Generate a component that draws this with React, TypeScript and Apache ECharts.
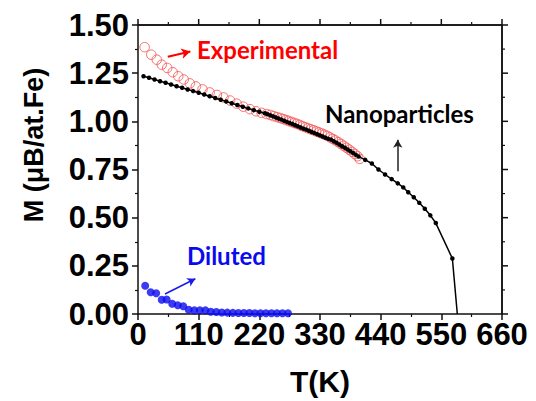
import React, { useEffect, useRef } from "react";
import * as echarts from "echarts";

// Nanoparticles (black line with small dots)
const nanoT = [10, 20, 30, 40, 50, 60, 70, 80, 90, 100, 110, 120, 130, 140, 150, 160, 170, 180, 190, 200, 210, 220,
  230, 235, 240, 245, 250, 255, 260, 265, 270, 275, 280, 285, 290, 295, 300, 305, 310, 315, 320, 325, 330, 335, 340, 345,
  350, 355, 360, 365, 370, 375, 380, 385, 390, 395, 400,
  412, 424, 436, 448, 460, 471, 481, 490, 500, 510, 520, 530, 540, 570, 579];
const nanoM = [1.234, 1.226, 1.217, 1.208, 1.2, 1.191, 1.182, 1.174, 1.165, 1.157, 1.148, 1.139, 1.13, 1.121, 1.112, 1.103, 1.094, 1.085, 1.076, 1.067, 1.058, 1.05,
  1.042, 1.037, 1.031, 1.026, 1.02, 1.014, 1.009, 1.003, 0.997, 0.991, 0.986, 0.98, 0.974, 0.968, 0.962, 0.957, 0.951, 0.945, 0.939, 0.933, 0.927, 0.921, 0.915, 0.909,
  0.905, 0.897, 0.889, 0.88, 0.871, 0.863, 0.854, 0.845, 0.836, 0.826, 0.817,
  0.8, 0.781, 0.75, 0.724, 0.7, 0.678, 0.657, 0.632, 0.606, 0.577, 0.546, 0.512, 0.472, 0.288, 0];

// Experimental (red open circles)
const expT = [12, 24, 34, 43, 53, 63, 73, 83, 94, 105, 117, 130, 143, 155, 167, 179, 191, 203, 214, 224, 233,
  240, 246, 252, 258, 263, 268, 273, 278, 283, 288, 293, 298, 303, 308, 313, 318, 323, 328, 333, 338, 343, 348,
  353, 358, 363, 368, 373, 378, 383, 388, 393, 398, 402];
const expM = [1.385, 1.346, 1.32, 1.294, 1.277, 1.255, 1.234, 1.217, 1.197, 1.181, 1.166, 1.15, 1.137, 1.124, 1.108, 1.092, 1.076, 1.063, 1.052, 1.044, 1.038,
  1.033, 1.027, 1.022, 1.017, 1.012, 1.007, 1.002, 0.997, 0.992, 0.987, 0.981, 0.975, 0.97, 0.964, 0.959, 0.954, 0.948, 0.943, 0.937, 0.931, 0.925, 0.917,
  0.909, 0.901, 0.892, 0.883, 0.873, 0.863, 0.853, 0.842, 0.831, 0.819, 0.805];

// Diluted (blue filled circles)
const dilT = [13, 23, 33, 43, 52, 62, 72, 82, 92, 102, 112, 122, 132, 142, 152, 162, 172, 182, 192, 202, 212, 222, 232, 242, 252, 262, 272];
const dilM = [0.147, 0.113, 0.108, 0.074, 0.075, 0.053, 0.045, 0.04, 0.022, 0.019, 0.019, 0.019, 0.012, 0.01, 0.008, 0.007, 0.006, 0.005, 0.005, 0.005, 0.004, 0.004, 0.004, 0.004, 0.004, 0.004, 0.004];

const xMin = 0, xMax = 660, xStep = 110;
const yMin = 0, yMax = 1.5, yStep = 0.25;

const zip = (a: number[], b: number[]) => a.map((v, i) => [v, b[i]]);

const mkLine = () => ({ show: true, onZero: false, lineStyle: { color: "#111", width: 1.5 } });
const mkTick = () => ({ show: true, inside: false, length: 6, lineStyle: { color: "#111", width: 1.5 } });
const mkMinor = () => ({ show: true, splitNumber: 2, length: 3, lineStyle: { color: "#111", width: 1.2 } });

const annotFont = "bold 24px Lato, 'Open Sans', sans-serif";

export default function App() {
  const ref = useRef<HTMLDivElement>(null);
  useEffect(() => {
    if (!ref.current) return;
    const chart = echarts.init(ref.current, null, { renderer: "svg" });
    const labelFont = { fontFamily: "Liberation Sans, Arial", fontWeight: "bold" as const, fontSize: 31, color: "#000" };
    const nanoData: any[] = zip(nanoT, nanoM);
    nanoData[nanoData.length - 1] = { value: nanoData[nanoData.length - 1], symbol: "none" };

    // Top/right frame ticks drawn through the axes' own scales (custom series)
    const frameRender = (_params: any, api: any) => {
      const children: any[] = [];
      const tl = api.coord([xMin, yMax]);
      const tr = api.coord([xMax, yMax]);
      const br = api.coord([xMax, yMin]);
      children.push({ type: "line", shape: { x1: tl[0], y1: tl[1], x2: tr[0], y2: tr[1] }, style: { stroke: "#111", lineWidth: 1.5 } });
      children.push({ type: "line", shape: { x1: tr[0], y1: tr[1], x2: br[0], y2: br[1] }, style: { stroke: "#111", lineWidth: 1.5 } });
      const nx = Math.round((xMax - xMin) / (xStep / 2));
      for (let i = 0; i <= nx; i++) {
        const p = api.coord([xMin + (i * xStep) / 2, yMax]);
        const len = i % 2 === 0 ? 6 : 3;
        children.push({ type: "line", shape: { x1: p[0], y1: p[1], x2: p[0], y2: p[1] - len }, style: { stroke: "#111", lineWidth: i % 2 === 0 ? 1.5 : 1.2 } });
      }
      const ny = Math.round((yMax - yMin) / (yStep / 2));
      for (let i = 0; i <= ny; i++) {
        const p = api.coord([xMax, yMin + (i * yStep) / 2]);
        const len = i % 2 === 0 ? 6 : 3;
        children.push({ type: "line", shape: { x1: p[0], y1: p[1], x2: p[0] + len, y2: p[1] }, style: { stroke: "#111", lineWidth: i % 2 === 0 ? 1.5 : 1.2 } });
      }
      return { type: "group", children };
    };

    chart.setOption({
      animation: false,
      grid: { left: 138, right: 34, top: 25, bottom: 84 },
      xAxis: {
        type: "value", min: xMin, max: xMax, interval: xStep, position: "bottom",
        axisLine: mkLine(), axisTick: mkTick(), minorTick: mkMinor(), splitLine: { show: false },
        axisLabel: { ...labelFont, margin: 5 },
        name: "T(K)", nameLocation: "middle", nameGap: 52,
        nameTextStyle: { fontFamily: "Liberation Sans, Arial", fontWeight: "bold", fontSize: 30, color: "#000" },
      },
      yAxis: {
        type: "value", min: yMin, max: yMax, interval: yStep, position: "left",
        axisLine: mkLine(), axisTick: mkTick(), minorTick: mkMinor(), splitLine: { show: false },
        axisLabel: { ...labelFont, margin: 9, formatter: (v: number) => v.toFixed(2) },
      },
      series: [
        {
          name: "frameLines", type: "line", silent: true, clip: false,
          data: [[xMin, yMax], [xMax, yMax], [xMax, yMin]],
          symbol: "none", lineStyle: { color: "#111", width: 1.5 }, z: 1,
        },
        {
          name: "frameTicks", type: "custom", silent: true, clip: false,
          data: [[xMax, yMax]], renderItem: frameRender, z: 1,
        },
        {
          name: "Experimental", type: "scatter", data: zip(expT, expM),
          symbol: "circle", symbolSize: 9.5,
          itemStyle: { color: "rgba(255,255,255,0)", borderColor: "#f25050", borderWidth: 1 },
          markLine: {
            silent: true, symbol: ["none", "arrow"], symbolSize: [8, 9],
            label: { show: false }, lineStyle: { color: "#ff0000", width: 2, type: "solid" },
            data: [[{ coord: [54, 1.335] }, { coord: [95, 1.362] }]],
          },
        },
        {
          name: "Nanoparticles", type: "line", data: nanoData,
          symbol: "circle", symbolSize: 4.5, showSymbol: true,
          lineStyle: { color: "#000", width: 1.5 }, itemStyle: { color: "#000" },
          markLine: {
            silent: true, symbol: ["none", "arrow"], symbolSize: [7, 8],
            label: { show: false }, lineStyle: { color: "#222", width: 1.5, type: "solid" },
            data: [[{ coord: [471, 0.741] }, { coord: [471, 0.905] }]],
          },
        },
        {
          name: "Diluted", type: "scatter", data: zip(dilT, dilM),
          symbol: "circle", symbolSize: 8,
          itemStyle: { color: "#0a0af0" },
          markLine: {
            silent: true, symbol: ["none", "arrow"], symbolSize: [7, 8],
            label: { show: false }, lineStyle: { color: "#1a1aee", width: 1.5, type: "solid" },
            data: [[{ coord: [49, 0.104] }, { coord: [104, 0.183] }]],
          },
        },
      ],
      graphic: [
        { type: "text", left: 197, top: 37, style: { text: "Experimental", fill: "#ff0000", font: annotFont } },
        { type: "text", left: 325, top: 101, style: { text: "Nanoparticles", fill: "#000", font: annotFont } },
        { type: "text", left: 187, top: 243, style: { text: "Diluted", fill: "#0a0af0", font: annotFont } },
        {
          type: "text", x: 34, y: 145, rotation: Math.PI / 2,
          style: { text: "M (\u03bcB/at.Fe)", fill: "#000", font: "bold 27px 'Liberation Sans', Arial, sans-serif", align: "center", verticalAlign: "middle" },
        },
      ],
    });
    return () => chart.dispose();
  }, []);
  return <div ref={ref} style={{ width: 536, height: 401, position: "absolute", left: 0, top: 0 }} />;
}
